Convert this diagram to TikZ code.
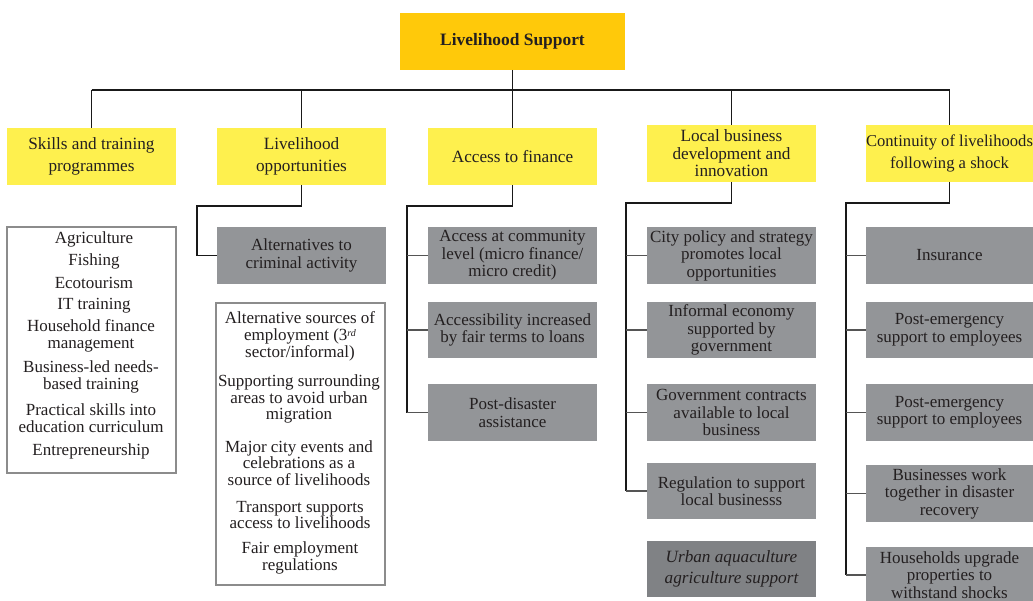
\documentclass[tikz,border=0pt]{standalone}
\usepackage{fontspec}
\setmainfont{Liberation Serif}
\definecolor{topc}{HTML}{FFC90A}
\definecolor{ylw}{HTML}{FEF04E}
\definecolor{gry}{HTML}{939598}
\definecolor{dgry}{HTML}{808285}
\definecolor{txt}{HTML}{231F20}
\definecolor{bdr}{HTML}{8C8C8C}
\definecolor{brc}{HTML}{555555}
\newcommand\bx[7]{\node[#6, minimum width={(#4-#2)*1pt}, minimum height={(#5-#3)*1pt}] (#1) at ({(#2+#4)/2},{(#3+#5)/2}) {#7};}
\tikzset{
  base/.style={inner sep=0pt, outer sep=0pt, align=center, text=txt},
  topbox/.style={base, fill=topc, font=\fontsize{17.4}{21}\selectfont\bfseries},
  yel/.style={base, fill=ylw, font=\fontsize{17.2}{21.5}\selectfont},
  yelt/.style={base, fill=ylw, font=\fontsize{17.2}{17.5}\selectfont},
  gry/.style={base, fill=gry, font=\fontsize{17}{17.5}\selectfont},
  dgrybox/.style={base, fill=dgry, font=\fontsize{17.2}{21}\selectfont\itshape},
  wbox/.style={base, draw=bdr, line width=1.4pt, fill=white},
  itm/.style={inner sep=0pt, align=center, text=txt, font=\fontsize{17}{16.5}\selectfont},
  mainln/.style={draw=black!90, line width=1.6pt},
  brln/.style={draw=brc, line width=1.3pt},
}
\begin{document}
\begin{tikzpicture}[x=1pt,y=-1pt]
\useasboundingbox (0,0) rectangle (1033,601);
% top
\bx{top}{400}{13}{625}{70}{topbox}{Livelihood Support}
% yellow
\bx{y1}{7}{128}{176}{185}{yel}{Skills and training\\programmes}
\bx{y2}{217}{128}{386}{185}{yel}{Livelihood\\opportunities}
\bx{y3}{428}{128}{597}{185}{yel}{Access to finance}
\bx{y4}{647}{125}{816}{182}{yelt}{Local business\\development and\\innovation}
\bx{y5}{866}{125}{1033}{182}{yel, font=\fontsize{16.6}{21.5}\selectfont}{Continuity of livelihoods\\following a shock}
% bus
\coordinate (bus) at (513,90);
\draw[mainln] (top.south) -- (top.south |- bus);
\draw[mainln] (y1.north |- bus) -- (y5.north |- bus);
\foreach \n in {y1,y2,y3,y4,y5} {\draw[mainln] (\n.north |- bus) -- (\n.north);}
% column 1
\bx{w1}{7}{227}{176}{473}{wbox}{}
\node[itm] (i11) at (94,239) {Agriculture};
\node[itm] (i12) at (94,261) {Fishing};
\node[itm] (i13) at (94,283) {Ecotourism};
\node[itm] (i14) at (94,306) {IT training};
\node[itm] (i15) at (91,336) {Household finance\\management};
\node[itm] (i16) at (91,377) {Business-led needs-\\based training};
\node[itm] (i17) at (91,418) {Practical skills into\\education curriculum};
\node[itm] (i18) at (91,451) {Entrepreneurship};
% column 2
\bx{alt}{217}{227}{386}{284}{gry}{Alternatives to\\criminal activity}
\coordinate (c2) at (197,206);
\draw[mainln] (y2.south) |- (c2) |- (alt.west);
\bx{w2}{216}{303}{385}{585}{wbox}{}
\node[itm] (i21) at (300,336) {Alternative sources of\\[1pt]employment (3{\fontsize{10}{10}\selectfont\itshape\raisebox{4.5pt}{rd}}\\sector/informal)};
\node[itm] (i22) at (299,399) {Supporting surrounding\\areas to avoid urban\\migration};
\node[itm] (i23) at (299,463) {Major city events and\\celebrations as a\\source of livelihoods};
\node[itm] (i24) at (300,515) {Transport supports\\access to livelihoods};
\node[itm] (i25) at (300,558) {Fair employment\\regulations};
% column 3
\bx{f1}{428}{227}{597}{284}{gry}{Access at community\\level (micro finance/\\micro credit)}
\bx{f2}{428}{302}{597}{358}{gry}{Accessibility increased\\by fair terms to loans}
\bx{f3}{428}{384}{597}{441}{gry}{Post-disaster\\assistance}
\coordinate (c3) at (407,206);
\draw[mainln] (y3.south) |- (c3) -- (c3 |- f3.west);
\foreach \n in {f1,f2,f3} {\draw[brln] (c3 |- \n.west) -- (\n.west);}
% column 4
\bx{b1}{647}{227}{816}{284}{gry}{City policy and strategy\\promotes local\\opportunities}
\bx{b2}{647}{302}{816}{358}{gry}{Informal economy\\supported by\\government}
\bx{b3}{647}{384}{816}{441}{gry}{Government contracts\\available to local\\business}
\bx{b4}{647}{463}{816}{519}{gry}{Regulation to support\\local businesss}
\bx{b5}{647}{541}{816}{597}{dgrybox}{Urban aquaculture\\agriculture support}
\coordinate (c4) at (626,203);
\draw[mainln] (y4.south) |- (c4) -- (c4 |- b4.west);
\foreach \n in {b1,b2,b3,b4} {\draw[brln] (c4 |- \n.west) -- (\n.west);}
% column 5
\bx{s1}{866}{227}{1033}{284}{gry}{Insurance}
\bx{s2}{866}{302}{1033}{358}{gry}{Post-emergency\\support to employees}
\bx{s3}{866}{384}{1033}{441}{gry}{Post-emergency\\support to employees}
\bx{s4}{866}{465}{1033}{522}{gry}{Businesses work\\together in disaster\\recovery}
\bx{s5}{866}{547}{1033}{603}{gry}{Households upgrade\\properties to\\withstand shocks}
\coordinate (c5) at (846,203);
\draw[mainln] (y5.south) |- (c5) -- (c5 |- s5.west);
\foreach \n in {s1,s2,s3,s4,s5} {\draw[brln] (c5 |- \n.west) -- (\n.west);}
\end{tikzpicture}
\end{document}
